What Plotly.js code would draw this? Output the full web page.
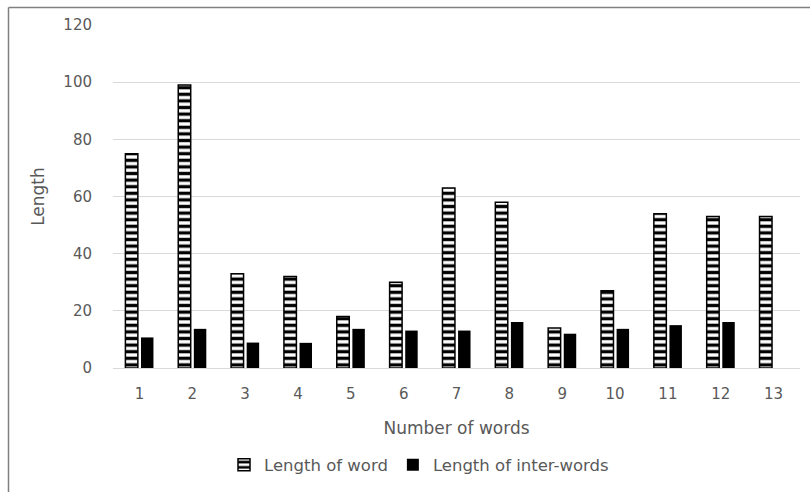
<!DOCTYPE html>
<html>
<head>
<meta charset="utf-8">
<script src="https://cdn.plot.ly/plotly-3.0.1.min.js"></script>
<style>html,body{margin:0;padding:0;background:#fff;}#chart{width:810px;height:492px;}</style>
</head>
<body>
<div id="chart"></div>
<script>
const categories = ['1','2','3','4','5','6','7','8','9','10','11','12','13'];
const lengthOfWord = [75, 99, 33, 32, 18, 30, 63, 58, 14, 27, 54, 53, 53];
const lengthOfInterWords = [10.7, 13.7, 8.9, 8.8, 13.7, 13.1, 13.1, 16.1, 12, 13.7, 15, 16.1, 0];
const yTicks = [0, 20, 40, 60, 80, 100, 120];

const gray = '#595959';
const fontFam = '"DejaVu Sans", "Open Sans", sans-serif';

const traces = [
  {
    type: 'bar',
    name: 'Length of word',
    x: categories,
    y: lengthOfWord,
    marker: {
      color: '#ffffff',
      line: {color: '#000000', width: 1.5},
      pattern: {shape: '-', fgcolor: '#000000', bgcolor: '#ffffff', size: 6.6, solidity: 0.5, fillmode: 'replace'}
    },
    hoverinfo: 'x+y'
  },
  {
    type: 'bar',
    name: 'Length of inter-words',
    x: categories,
    y: lengthOfInterWords,
    marker: {color: '#000000', line: {color: '#000000', width: 0}},
    hoverinfo: 'x+y'
  }
];

const pb = 368, pt = 25, pl = 113, pr = 800;
const ph = pb - pt, pw = pr - pl;
const py = v => (pb - v) / ph;
const px = v => (v - pl) / pw;

const layout = {
  width: 810,
  height: 492,
  margin: {l: pl, r: 810 - pr, t: pt, b: 492 - pb},
  paper_bgcolor: '#ffffff',
  plot_bgcolor: '#ffffff',
  barmode: 'group',
  bargap: 0.41,
  bargroupgap: 0.2,
  font: {family: fontFam, color: gray, size: 15},
  showlegend: true,
  legend: {
    orientation: 'h',
    x: px(419), xanchor: 'center',
    y: py(465), yanchor: 'middle',
    font: {family: fontFam, size: 16.5, color: gray},
    itemclick: false
  },
  xaxis: {
    type: 'category',
    showgrid: false,
    showline: true,
    linecolor: '#d9d9d9',
    linewidth: 1,
    ticks: '',
    ticklabelstandoff: 12,
    tickfont: {family: fontFam, size: 15, color: gray},
    title: {text: 'Number of words', font: {family: fontFam, size: 17, color: gray}, standoff: 20},
    fixedrange: true
  },
  yaxis: {
    range: [0, 120],
    tickvals: yTicks,
    ticktext: yTicks.map(String),
    showgrid: true,
    gridcolor: '#d9d9d9',
    gridwidth: 1,
    zeroline: false,
    showline: false,
    ticks: '',
    ticklabelstandoff: 20,
    tickfont: {family: fontFam, size: 15, color: gray},
    title: {text: 'Length', font: {family: fontFam, size: 17, color: gray}, standoff: 14},
    fixedrange: true
  },
  shapes: [
    {type: 'line', xref: 'paper', yref: 'paper', x0: px(8.5), x1: px(815), y0: py(7.5), y1: py(7.5), line: {color: '#808080', width: 1.5}},
    {type: 'line', xref: 'paper', yref: 'paper', x0: px(8.5), x1: px(8.5), y0: py(7.5), y1: py(500), line: {color: '#808080', width: 1.5}}
  ]
};

Plotly.newPlot('chart', traces, layout, {displayModeBar: false, staticPlot: true});
</script>
</body>
</html>
